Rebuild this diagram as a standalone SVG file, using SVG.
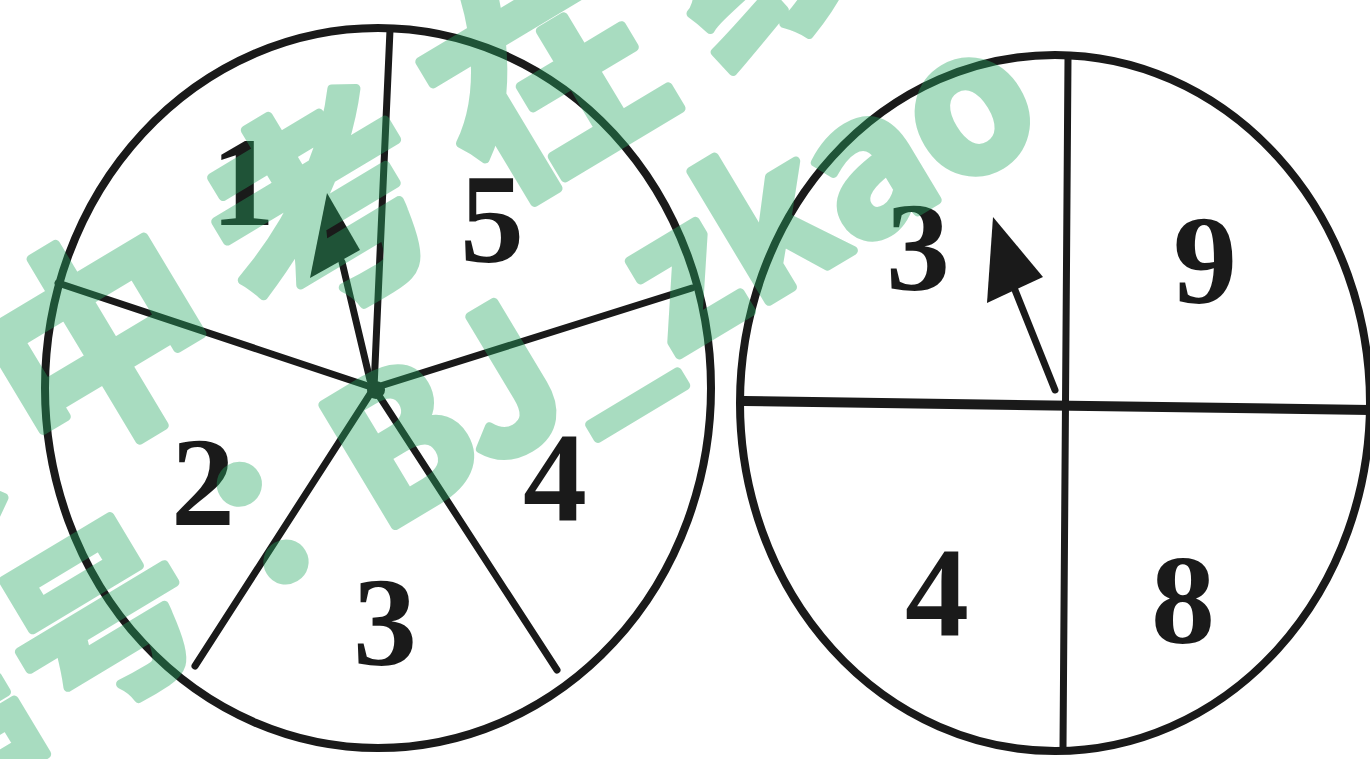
<svg xmlns="http://www.w3.org/2000/svg" width="1370" height="759" viewBox="0 0 1370 759">
<style>
.rim{fill:none;stroke:#1a1a1a;stroke-width:8}
.ln{fill:none;stroke:#1a1a1a;stroke-width:7;stroke-linecap:round}
.num{font-family:"Liberation Serif",serif;font-weight:bold;font-size:128px;fill:#1a1a1a;text-anchor:middle}
.ah{fill:#1a1a1a}
.wm{font-family:"Noto Sans CJK TC","Noto Sans",sans-serif;font-weight:bold;fill:rgb(40,170,100);stroke:rgb(40,170,100);stroke-width:9;stroke-linejoin:round}
</style>
<rect width="1370" height="759" fill="#fff"/>
<g id="spinner-left">
<ellipse class="rim" cx="378" cy="388" rx="333" ry="360"/>
<g id="left-dividers">
<line class="ln" x1="374" y1="388" x2="390" y2="30"/>
<line class="ln" x1="374" y1="388" x2="58" y2="283"/>
<line class="ln" x1="374" y1="388" x2="692" y2="288"/>
<line class="ln" x1="374" y1="388" x2="195" y2="666"/>
<line class="ln" x1="374" y1="388" x2="557" y2="670"/>
</g>
<circle cx="376" cy="390" r="9" fill="#1a1a1a"/>
<g id="left-pointer">
<line class="ln" x1="370" y1="380" x2="342" y2="262"/>
<polygon class="ah" points="327,193 310,278 360,250"/>
</g>
<text class="num" x="243" y="225">1</text>
<text class="num" x="492" y="262">5</text>
<text class="num" x="203" y="525">2</text>
<text class="num" x="555" y="520">4</text>
<text class="num" x="385" y="665">3</text>
</g>
<g id="spinner-right">
<ellipse class="rim" cx="1055" cy="403" rx="315" ry="348"/>
<g id="right-dividers">
<line class="ln" x1="1068" y1="58" x2="1063" y2="748"/>
<line class="ln" x1="744" y1="401" x2="1370" y2="410" style="stroke-width:10"/>
</g>
<g id="right-pointer">
<line class="ln" x1="1055" y1="390" x2="1013" y2="285"/>
<polygon class="ah" points="993,217 987,303 1043,277"/>
</g>
<text class="num" x="918" y="290">3</text>
<text class="num" x="1205" y="303">9</text>
<text class="num" x="937" y="635">4</text>
<text class="num" x="1183" y="643">8</text>
</g>
<g id="watermark" opacity="0.4">
<text class="wm" font-size="225" letter-spacing="35" transform="translate(-400,741) rotate(-31)">北京中考在线</text>
<text class="wm" font-size="190" transform="translate(-271,926) rotate(-31)">微信号：BJ_zkao</text>
</g>
</svg>
